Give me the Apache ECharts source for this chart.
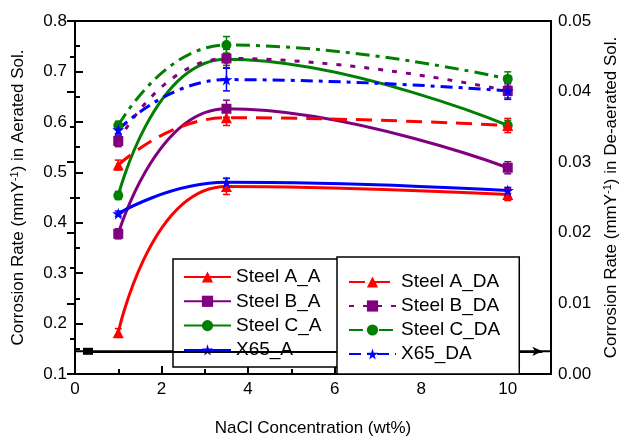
<!DOCTYPE html>
<html>
<head>
<meta charset="utf-8">
<script src="https://cdn.jsdelivr.net/npm/echarts@6/dist/echarts.min.js"></script>
<style>
  html, body { margin: 0; padding: 0; background: #fff; }
  #chart { width: 628px; height: 442px; }
</style>
</head>
<body>
<div id="chart"></div>
<script>
// NaCl concentration (wt%)
const nacl = [1, 3.5, 10]

// aerated solution, left axis (mmY-1)
const steelA_A = [0.182, 0.472, 0.456]
const steelB_A = [0.378, 0.626, 0.509]
const steelC_A = [0.454, 0.724, 0.593]
const x65_A = [0.418, 0.48, 0.464]

// de-aerated solution, right axis (mmY-1)
const steelA_DA = [0.0296, 0.0363, 0.0352]
const steelB_DA = [0.033, 0.0447, 0.0401]
const steelC_DA = [0.0352, 0.0466, 0.0418]
const x65_DA = [0.0346, 0.0417, 0.0401]

// error bar half-heights
const errA_A = [0.008, 0.016, 0.012]
const errB_A = [0.01, 0.017, 0.012]
const errC_A = [0.008, 0.012, 0.01]
const errX_A = [0.005, 0.008, 0.006]
const errA_DA = [0.0007, 0.0011, 0.001]
const errB_DA = [0.0008, 0.0013, 0.001]
const errC_DA = [0.0006, 0.0012, 0.001]
const errX_DA = [0.0006, 0.0016, 0.0012]

// black double-arrow line
const arrowY = 0.145
const arrowLineX = [0, 11]
const arrowHeadX = [0.3, 10.8]

const RED = '#ff0000'
const PURPLE = '#800080'
const GREEN = '#008000'
const BLUE = '#0000ff'
const STAR = 'path://M50,0 L61,35 L98,35 L68,57 L79,91 L50,70 L21,91 L32,57 L2,35 L39,35 Z'
const FONT = '"Liberation Sans", Arial, sans-serif'

function lineSeries(name, ys, color, symbol, size, yAxisIndex, dash) {
  return {
    name, type: 'line', xAxisIndex: 0, yAxisIndex,
    data: nacl.map((x, i) => [x, ys[i]]),
    smooth: 0.5,
    symbol, symbolSize: size, showSymbol: true,
    itemStyle: { color },
    lineStyle: { color, width: 3, type: dash || 'solid' },
    z: 3
  }
}

function errSeries(ys, errs, color, yAxisIndex) {
  return {
    type: 'custom', xAxisIndex: 0, yAxisIndex, silent: true, z: 2,
    data: nacl.map((x, i) => [x, ys[i], errs[i]]),
    renderItem(params, api) {
      const x = api.value(0), y = api.value(1), e = api.value(2)
      const hi = api.coord([x, y + e])
      const lo = api.coord([x, y - e])
      const w = 3.5
      const st = { stroke: color, lineWidth: 1.5 }
      return {
        type: 'group',
        children: [
          { type: 'line', shape: { x1: hi[0], y1: hi[1], x2: lo[0], y2: lo[1] }, style: st },
          { type: 'line', shape: { x1: hi[0] - w, y1: hi[1], x2: hi[0] + w, y2: hi[1] }, style: st },
          { type: 'line', shape: { x1: lo[0] - w, y1: lo[1], x2: lo[0] + w, y2: lo[1] }, style: st }
        ]
      }
    }
  }
}

const axisLine = { show: true, lineStyle: { color: '#000', width: 2 } }
const tickLine = { color: '#000', width: 2 }
const labelStyle = { color: '#000', fontSize: 17, fontFamily: FONT }
const nameStyle = {
  color: '#000', fontSize: 17, fontFamily: FONT,
  rich: {
    t: { fontSize: 17, fontFamily: FONT, color: '#000' },
    sup: { fontSize: 11, fontFamily: FONT, color: '#000', verticalAlign: 'top', padding: [0, 0, 8, 0] }
  }
}

const legendBase = {
  orient: 'vertical',
  selectedMode: false,
  backgroundColor: '#fff',
  borderColor: '#000',
  borderWidth: 1.5,
  borderRadius: 0,
  itemWidth: 47,
  itemHeight: 14,
  textStyle: { color: '#000', fontSize: 19, fontFamily: FONT }
}

const chart = echarts.init(document.getElementById('chart'))
chart.setOption({
  backgroundColor: '#fff',
  animation: false,
  grid: {
    left: 75, right: 75, top: 21, bottom: 64,
    show: true, borderColor: '#000', borderWidth: 2, backgroundColor: 'transparent'
  },
  legend: [
    Object.assign({}, legendBase, {
      left: 173, top: 259,
      padding: [8.5, 18, 7.5, 10],
      itemGap: 5.3,
      data: ['Steel A_A', 'Steel B_A', 'Steel C_A', 'X65_A'],
      z: 5
    }),
    Object.assign({}, legendBase, {
      left: 337, top: 257,
      padding: [15.5, 19, 10.5, 11],
      itemGap: 5,
      data: ['Steel A_DA', 'Steel B_DA', 'Steel C_DA', 'X65_DA'],
      z: 6
    })
  ],
  xAxis: [
    {
      type: 'value', position: 'bottom', min: 0, max: 11, interval: 1,
      axisLine,
      axisTick: { show: true, inside: true, length: 5, lineStyle: tickLine },
      axisLabel: { show: false },
      splitLine: { show: false }
    },
    {
      type: 'value', position: 'bottom', min: 0, max: 11, interval: 2,
      axisLine,
      axisTick: { show: true, inside: true, length: 8, lineStyle: tickLine },
      axisLabel: Object.assign({ margin: 7, showMaxLabel: false }, labelStyle),
      splitLine: { show: false },
      name: 'NaCl Concentration (wt%)',
      nameLocation: 'middle',
      nameGap: 46,
      nameTextStyle: { color: '#000', fontSize: 17, fontFamily: FONT }
    }
  ],
  yAxis: [
    {
      type: 'value', position: 'left', min: 0.1, max: 0.8, interval: 0.1,
      axisLine,
      axisTick: { show: true, inside: true, length: 8, lineStyle: tickLine },
      minorTick: { show: true, splitNumber: 2, length: 5, lineStyle: tickLine },
      axisLabel: Object.assign({ margin: 8, formatter: v => v.toFixed(1) }, labelStyle),
      splitLine: { show: false },
      name: '{t|Corrosion Rate (mmY}{sup|-1}{t|) in Aerated Sol.}',
      nameLocation: 'middle',
      nameRotate: 90,
      nameGap: 47,
      nameTextStyle: nameStyle
    },
    {
      type: 'value', position: 'right', min: 0, max: 0.05, interval: 0.01,
      axisLine,
      axisTick: { show: true, inside: true, length: 8, lineStyle: tickLine },
      minorTick: { show: true, splitNumber: 2, length: 5, lineStyle: tickLine },
      axisLabel: Object.assign({ margin: 7, formatter: v => v.toFixed(2) }, labelStyle),
      splitLine: { show: false },
      name: '{t|Corrosion Rate (mmY}{sup|-1}{t|) in De-aerated Sol.}',
      nameLocation: 'middle',
      nameRotate: 90,
      nameGap: 50,
      nameTextStyle: nameStyle
    }
  ],
  series: [
    {
      type: 'line', xAxisIndex: 0, yAxisIndex: 0, silent: true,
      data: arrowLineX.map(x => [x, arrowY]),
      symbol: 'none',
      lineStyle: { color: '#000', width: 2 },
      markLine: {
        silent: true,
        symbol: ['rect', 'arrow'],
        symbolSize: [7, 10],
        label: { show: false },
        lineStyle: { color: '#000', width: 2, type: 'solid' },
        data: [[{ coord: [arrowHeadX[0], arrowY] }, { coord: [arrowHeadX[1], arrowY] }]]
      },
      z: 1
    },
    errSeries(steelA_A, errA_A, RED, 0),
    errSeries(steelB_A, errB_A, PURPLE, 0),
    errSeries(steelC_A, errC_A, GREEN, 0),
    errSeries(x65_A, errX_A, BLUE, 0),
    errSeries(steelA_DA, errA_DA, RED, 1),
    errSeries(steelB_DA, errB_DA, PURPLE, 1),
    errSeries(steelC_DA, errC_DA, GREEN, 1),
    errSeries(x65_DA, errX_DA, BLUE, 1),
    lineSeries('Steel A_A', steelA_A, RED, 'triangle', 11, 0),
    lineSeries('Steel B_A', steelB_A, PURPLE, 'rect', 10, 0),
    lineSeries('Steel C_A', steelC_A, GREEN, 'circle', 10, 0),
    lineSeries('X65_A', x65_A, BLUE, STAR, 12, 0),
    lineSeries('Steel A_DA', steelA_DA, RED, 'triangle', 11, 1, [16, 9]),
    lineSeries('Steel B_DA', steelB_DA, PURPLE, 'rect', 10, 1, [5, 9]),
    lineSeries('Steel C_DA', steelC_DA, GREEN, 'circle', 10, 1, [14, 6, 4, 6]),
    lineSeries('X65_DA', x65_DA, BLUE, STAR, 12, 1, [12, 6, 4, 6])
  ]
})
</script>
</body>
</html>
